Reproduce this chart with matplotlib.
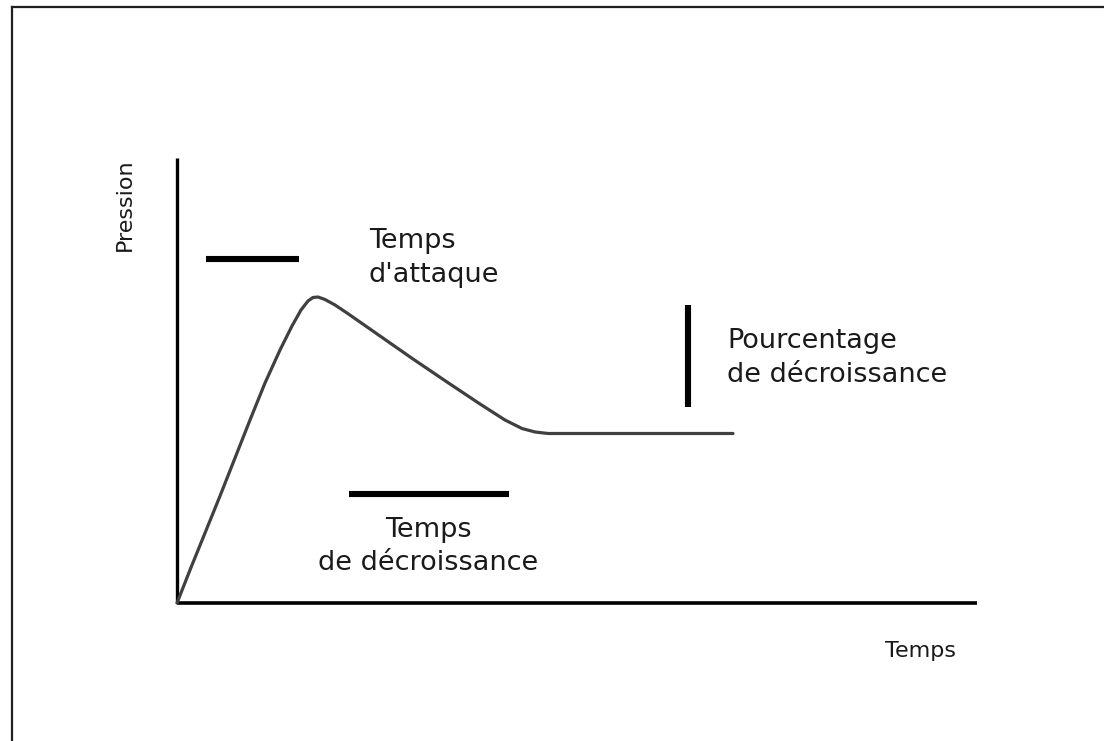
import matplotlib
matplotlib.use("Agg")
import matplotlib.pyplot as plt
from matplotlib.lines import Line2D

# Pressure envelope: fast attack, smooth decay, then a sustained plateau
time = [0.0, 1.625, 3.5, 5.375, 7.25, 9.125, 11.0, 12.875, 14.375, 15.5, 16.375,
        17.0, 17.625, 18.5, 19.75, 21.25, 25.375, 29.5, 33.75, 37.875, 41.0,
        43.125, 44.75, 46.375, 69.5]
pressure = [0.0, 7.42, 15.73, 24.04, 32.58, 41.12, 49.44, 56.85, 62.25, 65.84, 67.87,
            68.65, 68.76, 68.2, 66.97, 65.17, 60.0, 54.83, 49.66, 44.72, 41.12,
            39.21, 38.43, 38.09, 38.09]

# Markers for the envelope parameters
attack_span = [3.6, 15.25]
attack_level = 77.3
decay_span = [21.5, 41.5]
decay_level = 24.5
drop_time = 63.9
drop_range = [44.0, 67.0]

labels = {
    "attack": "Temps\nd'attaque",
    "drop": "Pourcentage\nde décroissance",
    "decay": "Temps\nde décroissance",
    "xlabel": "Temps",
    "ylabel": "Pression",
}

W, H, DPI = 1104, 741, 100
fig = plt.figure(figsize=(W / DPI, H / DPI), dpi=DPI)
fig.patch.set_facecolor("white")
ax = fig.add_axes([0, 0, 1, 1])
ax.set_xlim(-22.125, 115.875)
ax.set_ylim(-31.01, 135.5)
ax.axis("off")

ink = "#000000"
txt = "#1a1a1a"

# Axes drawn as plain strokes from the origin
ax.plot([0, 100], [0, 0], color=ink, lw=2.6, solid_capstyle="butt")
ax.plot([0, 0], [0, 100], color=ink, lw=2.4, solid_capstyle="butt")

# Envelope curve
ax.plot(time, pressure, color="#404040", lw=2.3, solid_joinstyle="round",
        solid_capstyle="round")

# Parameter bars
ax.plot(attack_span, [attack_level] * 2, color=ink, lw=4.4, solid_capstyle="butt")
ax.plot(decay_span, [decay_level] * 2, color=ink, lw=4.4, solid_capstyle="butt")
ax.plot([drop_time] * 2, drop_range, color=ink, lw=4.4, solid_capstyle="butt")

# Two-line labels, placed by the baseline of their last line
fs_big = 19.5
fs_small = 16
ls = 1.36
ax.text(24.0, 72.2, labels["attack"], fontsize=fs_big, color=txt,
        ha="left", va="baseline", linespacing=ls)
ax.text(68.75, 49.73, labels["drop"], fontsize=fs_big, color=txt,
        ha="left", va="baseline", linespacing=ls)
ax.text(31.4, 7.42, labels["decay"], fontsize=fs_big, color=txt,
        ha="center", va="baseline", linespacing=ls, multialignment="center")
ax.text(92.9, -12.13, labels["xlabel"], fontsize=fs_small, color=txt,
        ha="center", va="baseline")
ax.text(-6.5, 89.4, labels["ylabel"], fontsize=fs_small, color=txt,
        ha="center", va="center", rotation=90)

# Outer frame (top and left edges)
fig.add_artist(Line2D([11.5 / W, 1.0], [1 - 7.3 / H] * 2, transform=fig.transFigure,
                      color="#202020", lw=1.6))
fig.add_artist(Line2D([11.5 / W] * 2, [0.0, 1 - 7.3 / H], transform=fig.transFigure,
                      color="#202020", lw=1.6))

fig.savefig("out.png", dpi=DPI, facecolor="white")
